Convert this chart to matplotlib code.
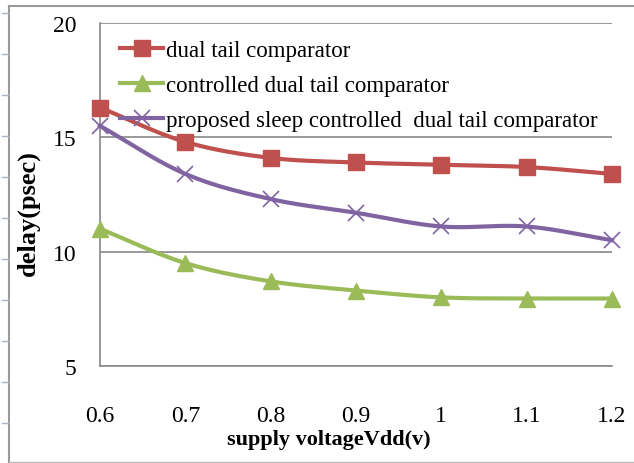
import matplotlib.pyplot as plt
import numpy as np
from matplotlib.lines import Line2D

# supply voltage (V) and delay (psec) for each comparator
vdd = [0.6, 0.7, 0.8, 0.9, 1.0, 1.1, 1.2]
dual_tail = [16.3, 14.8, 14.1, 13.9, 13.8, 13.7, 13.4]
controlled_dual_tail = [11.0, 9.5, 8.7, 8.3, 8.0, 7.95, 7.95]
sleep_controlled = [15.5, 13.4, 12.3, 11.7, 11.1, 11.1, 10.5]
labels = ['dual tail comparator',
          'controlled dual tail comparator',
          'proposed sleep controlled  dual tail comparator']
xticks = ['0.6', '0.7', '0.8', '0.9', '1', '1.1', '1.2']
yticks = [5, 10, 15, 20]


def smooth(x, y, n=30):
    # Catmull-Rom spline through the points (smoothed line style)
    x = np.asarray(x, float)
    y = np.asarray(y, float)
    px = np.concatenate([[2 * x[0] - x[1]], x, [2 * x[-1] - x[-2]]])
    py = np.concatenate([[2 * y[0] - y[1]], y, [2 * y[-1] - y[-2]]])
    xs, ys = [], []
    t = np.linspace(0, 1, n)
    for i in range(1, len(px) - 2):
        for p, out in ((px, xs), (py, ys)):
            p0, p1, p2, p3 = p[i - 1], p[i], p[i + 1], p[i + 2]
            out.extend(0.5 * (2 * p1 + (-p0 + p2) * t
                              + (2 * p0 - 5 * p1 + 4 * p2 - p3) * t ** 2
                              + (-p0 + 3 * p1 - 3 * p2 + p3) * t ** 3))
    return xs, ys


plt.rcParams['font.family'] = ['Liberation Serif', 'DejaVu Serif']

fig = plt.figure(figsize=(6.34, 4.64), dpi=100)
ax = fig.add_axes([0.1577, 0.2091, 0.8076, 0.7392])

series = [
    (dual_tail, '#C0504D', 's', 12, 1),
    (controlled_dual_tail, '#9BBB59', '^', 12, 1),
    (sleep_controlled, '#8064A2', 'x', 12, 1.2),
]
handles = []
for (vals, color, marker, ms, mew), lab in zip(series, labels):
    sx, sy = smooth(vdd, vals)
    ax.plot(sx, sy, color=color, lw=3, zorder=3, clip_on=False)
    ax.plot(vdd, vals, ls='none', marker=marker, ms=ms, color=color,
            mew=mew, zorder=4, clip_on=False)
    handles.append(Line2D([], [], color=color, lw=3, marker=marker, ms=ms,
                          mew=mew, label=lab))

ax.set_xlim(0.6, 1.2)
ax.set_ylim(5, 20)
ax.set_xticks(vdd)
ax.set_xticklabels(xticks)
ax.set_yticks(yticks)
ax.tick_params(length=0, labelsize=17)
ax.tick_params(axis='x', pad=28)
ax.tick_params(axis='y', pad=17)
ax.grid(axis='y', color='#888888', lw=1.2)
for s in ['top', 'right']:
    ax.spines[s].set_visible(False)
for s in ['left', 'bottom']:
    ax.spines[s].set_color('#888888')
    ax.spines[s].set_linewidth(1.2)

ax.legend(handles=handles, loc='upper left', bbox_to_anchor=(0.005, 1.0),
          frameon=False, fontsize=16.5, handlelength=1.9, handletextpad=0.1,
          labelspacing=0.6, borderpad=0.25)

fig.text(0.518, 0.052, 'supply voltageVdd(v)', ha='center', va='center',
         fontsize=16, fontweight='bold')
fig.text(0.045, 0.54, 'delay(psec)', ha='center', va='center',
         rotation=90, fontsize=19, fontweight='bold')

# outer frame with small ruler marks on the left edge
fig.add_artist(Line2D([9 / 634, 1], [1 - 7 / 464] * 2, color='#999999', lw=1.5))
fig.add_artist(Line2D([9 / 634] * 2, [0, 1 - 7 / 464], color='#999999', lw=1.5))
fig.add_artist(Line2D([9 / 634, 1], [1 / 464] * 2, color='#bbbbbb', lw=1))
for yy in range(14, 464, 41):
    fig.add_artist(Line2D([2 / 634, 8 / 634], [1 - yy / 464] * 2,
                          color='#aab4c8', lw=1))

fig.savefig('out.png', dpi=100)
